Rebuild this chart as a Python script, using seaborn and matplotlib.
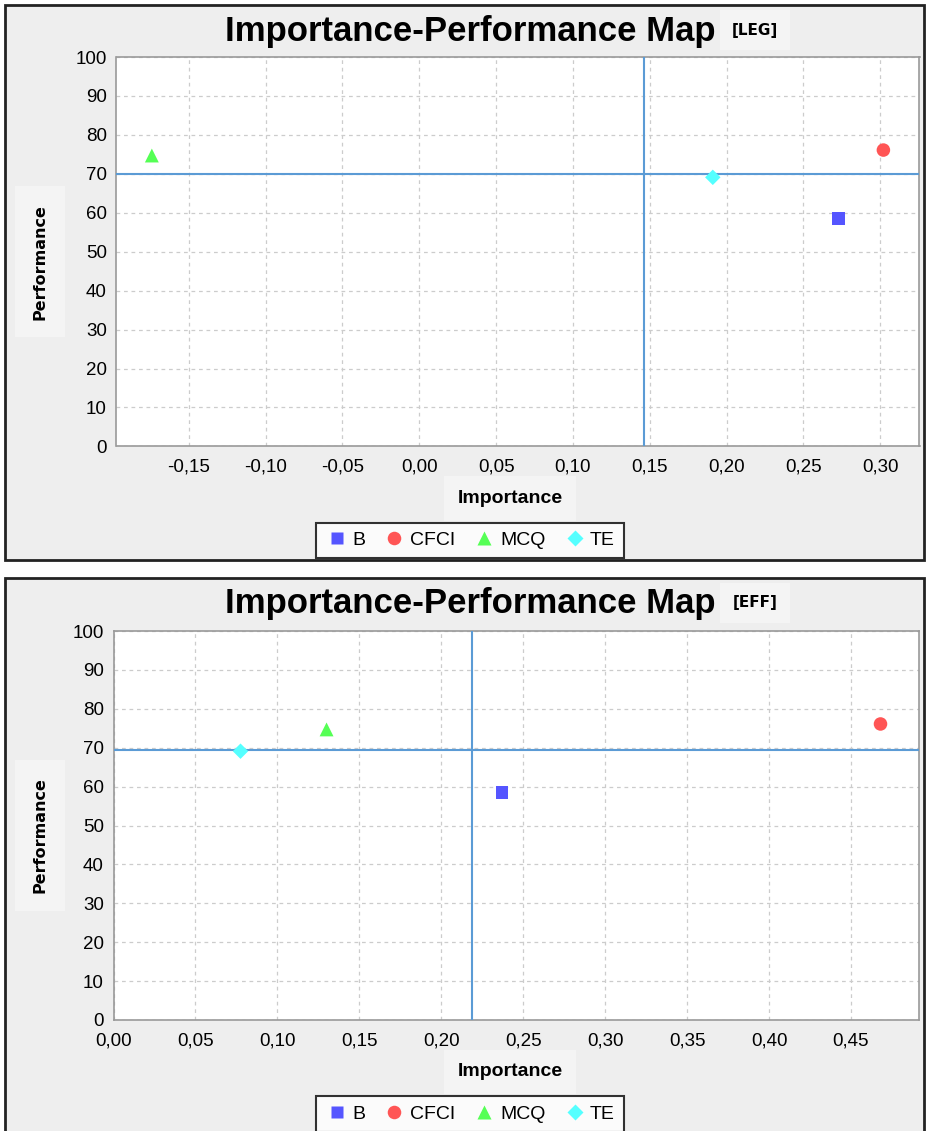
import pandas as pd
import matplotlib.pyplot as plt
import matplotlib.patches as mpatches
import seaborn as sns

# constructs and their marker styles
items = ["B", "CFCI", "MCQ", "TE"]
colors = ["#5555ff", "#ff5555", "#55ff55", "#55ffff"]
markers = ["s", "o", "^", "D"]
marker_sizes = [85, 95, 100, 62]

# performance is the same for both targets
performance = [58.5, 76.1, 74.7, 69.1]

# [LEG] panel
leg_importance = [0.273, 0.302, -0.174, 0.191]
leg_mean_importance = 0.1463
leg_mean_performance = 70.0
leg_xlim = (-0.197, 0.3255)
leg_xticks = [-0.15, -0.10, -0.05, 0.00, 0.05, 0.10, 0.15, 0.20, 0.25, 0.30]

# [EFF] panel
eff_importance = [0.237, 0.468, 0.130, 0.0775]
eff_mean_importance = 0.2188
eff_mean_performance = 69.5
eff_xlim = (0.0, 0.4918)
eff_xticks = [0.00, 0.05, 0.10, 0.15, 0.20, 0.25, 0.30, 0.35, 0.40, 0.45]

yticks = list(range(0, 101, 10))

sns.set_style("white")
plt.rcParams["font.family"] = ["Liberation Sans Narrow", "Liberation Sans", "DejaVu Sans"]
plt.rcParams["text.color"] = "black"

W, H = 927, 1131
fig = plt.figure(figsize=(W / 100, H / 100), dpi=100)
fig.patch.set_facecolor("white")


def px(x0, y0, x1, y1):
    """pixel box (top-left origin) -> figure fraction rect"""
    return [x0 / W, 1 - y1 / H, (x1 - x0) / W, (y1 - y0) / H]


def fx(x):
    return x / W


def fy(y):
    return 1 - y / H


def draw_panel(top, ax_box, imp, mean_imp, mean_perf, xlim, xticks, tag):
    # grey panel background with black frame
    r = px(5, top, 924, top + 555)
    fig.patches.append(mpatches.Rectangle((r[0], r[1]), r[2], r[3], transform=fig.transFigure,
                                          facecolor="#eeeeee", edgecolor="#222222", lw=2, zorder=-5))

    ax = fig.add_axes(px(*ax_box))
    ax.set_zorder(2)
    ax.set_facecolor("white")
    df = pd.DataFrame({"Importance": imp, "Performance": performance, "item": items})
    sns.scatterplot(data=df, x="Importance", y="Performance", hue="item", style="item", size="item",
                    palette=dict(zip(items, colors)), markers=dict(zip(items, markers)),
                    sizes=dict(zip(items, marker_sizes)), edgecolor="none", ax=ax, zorder=5)

    ax.axvline(mean_imp, color="#5b9bd5", lw=1.5, zorder=3)
    ax.axhline(mean_perf, color="#5b9bd5", lw=1.5, zorder=3)

    ax.set_xlim(*xlim)
    ax.set_ylim(0, 100)
    ax.set_xticks(xticks)
    ax.set_xticklabels([f"{t:.2f}".replace(".", ",") for t in xticks])
    ax.set_yticks(yticks)
    ax.tick_params(labelsize=13.5, length=3, color="#999999", direction="out", pad=4, labelcolor="black")
    ax.tick_params(axis="x", pad=6)
    ax.grid(True, ls=(0, (3, 3)), color="#cccccc", lw=0.9)
    for sp in ax.spines.values():
        sp.set_color("#999999")
        sp.set_linewidth(1.2)
    ax.set_xlabel("")
    ax.set_ylabel("")

    handles, labels = ax.get_legend_handles_labels()
    ax.get_legend().remove()

    # title and tag
    fig.text(fx(470), fy(top + 26), "Importance-Performance Map", ha="center", va="center",
             fontsize=25, fontweight="bold")
    fig.text(fx(755), fy(top + 25), tag, ha="center", va="center", fontsize=11, fontweight="bold",
             family=["DejaVu Sans"],
             bbox=dict(boxstyle="square,pad=0.8", fc="#f4f4f4", ec="none"))

    # axis labels in light boxes
    ax_mid_y = (ax_box[1] + ax_box[3]) / 2
    fig.text(fx(40), fy(ax_mid_y + 10), "Performance", rotation=90, ha="center", va="center",
             fontsize=11.5, fontweight="bold", family=["DejaVu Sans"], zorder=1,
             bbox=dict(boxstyle="square,pad=1.1", fc="#f4f4f4", ec="none"))
    fig.text(fx(510), fy(ax_box[3] + 52), "Importance", ha="center", va="center",
             fontsize=14, fontweight="bold", zorder=1,
             bbox=dict(boxstyle="square,pad=0.7", fc="#f4f4f4", ec="none"))

    leg = fig.legend(handles, labels, loc="center", bbox_to_anchor=(fx(470), fy(ax_box[3] + 94)),
                     ncol=4, frameon=True, fancybox=False, fontsize=14, handletextpad=0.2,
                     columnspacing=0.9, borderpad=0.45, handlelength=1.2)
    leg.get_frame().set_edgecolor("black")
    leg.get_frame().set_linewidth(1.5)
    return ax


draw_panel(5, (116.5, 57, 919.5, 446.4), leg_importance, leg_mean_importance,
           leg_mean_performance, leg_xlim, leg_xticks, "[LEG]")
draw_panel(578, (113.5, 631, 919.5, 1020), eff_importance, eff_mean_importance,
           eff_mean_performance, eff_xlim, eff_xticks, "[EFF]")

fig.savefig("out.png", dpi=100, facecolor="white")
